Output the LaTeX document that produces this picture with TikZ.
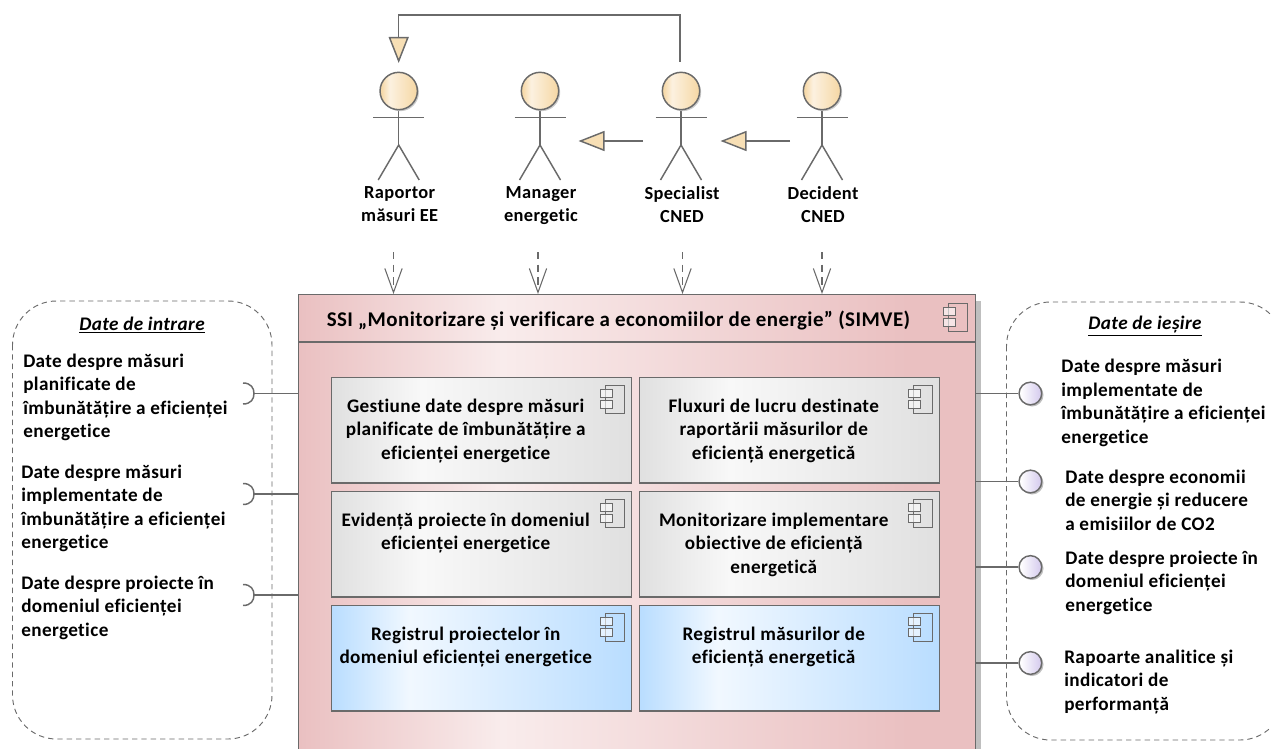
\documentclass[tikz,border=0pt]{standalone}
\usepackage{fontspec}
\setmainfont{Carlito}[LetterSpace=2,Ligatures=NoCommon]
\usetikzlibrary{arrows.meta,positioning}
\definecolor{linegray}{HTML}{6A6A6A}
\definecolor{skin}{HTML}{F6D9A8}
\definecolor{skinlight}{HTML}{FCF1E0}
\definecolor{pinkdark}{HTML}{EAC0C1}
\definecolor{pinklight}{HTML}{F9ECEC}
\definecolor{graydark}{HTML}{E0E0E0}
\definecolor{graylight}{HTML}{F8F8F8}
\definecolor{bluedark}{HTML}{B9DDFF}
\definecolor{bluelight}{HTML}{F1F8FF}
\definecolor{lavender}{HTML}{D6CCEE}
\pgfdeclarehorizontalshading{simveshade}{100bp}{color(0bp)=(pinkdark); color(25bp)=(pinkdark); color(40bp)=(pinklight); color(70bp)=(pinkdark); color(100bp)=(pinkdark)}
\pgfdeclarehorizontalshading{grayshade}{100bp}{color(0bp)=(graydark); color(25bp)=(graydark); color(40bp)=(graylight); color(75bp)=(graydark); color(100bp)=(graydark)}
\pgfdeclarehorizontalshading{blueshade}{100bp}{color(0bp)=(bluedark); color(25bp)=(bluedark); color(38bp)=(bluelight); color(75bp)=(bluedark); color(100bp)=(bluedark)}
\pgfdeclarehorizontalshading{skinshade}{100bp}{color(0bp)=(skin); color(27bp)=(skin); color(38bp)=(skinlight); color(72bp)=(skin); color(100bp)=(skin)}
\pgfdeclarehorizontalshading{ifaceshade}{100bp}{color(0bp)=(white); color(28bp)=(white); color(72bp)=(lavender); color(100bp)=(lavender)}
\tikzset{
  pxline/.style={draw=linegray,line width=1.1pt},
  textfont/.style={font=\fontsize{14.4}{17.6}\selectfont\bfseries,execute at begin node=\strut},
  datatext/.style={textfont,align=left,anchor=north west,inner sep=0pt},
  boxtext/.style={textfont,align=center,anchor=north,inner sep=0pt},
  actorlabel/.style={font=\fontsize{13.8}{17.6}\selectfont\bfseries,execute at begin node=\strut,align=center,anchor=north,inner sep=0pt},
  headtitle/.style={font=\fontsize{14.4}{17.6}\selectfont\bfseries\itshape,inner sep=0pt},
  actorhead/.style={circle,pxline,shading=skinshade,minimum size=28pt,inner sep=0pt},
  simvebox/.style={rectangle,pxline,shading=simveshade,minimum width=507.75pt,minimum height=360pt,inner sep=0pt},
  compgray/.style={rectangle,pxline,shading=grayshade,minimum width=225pt,minimum height=79pt,inner sep=0pt},
  compblue/.style={rectangle,pxline,shading=blueshade,minimum width=225pt,minimum height=79pt,inner sep=0pt},
  databox/.style={draw=linegray,line width=0.7pt,dash pattern=on 4pt off 3pt,rounded corners=33pt},
  genline/.style={pxline,-{Triangle[length=19.5pt,width=15pt,fill=skin!85!white]}},
  useline/.style={draw=linegray,line width=0.8pt,dash pattern=on 5.5pt off 4pt,-{Straight Barb[length=18pt,width=13pt,line width=0.8pt]}},
  ifacecircle/.style={circle,pxline,shading=ifaceshade,minimum size=17pt,inner sep=0pt},
  compicon/.pic={
    \draw[pxline,line width=0.7pt] (5,0) rectangle (23.5,28);
    \draw[pxline,line width=0.7pt,fill=white,fill opacity=0.6] (0,4) rectangle (12,12.5);
    \draw[pxline,line width=0.7pt,fill=white,fill opacity=0.6] (0,15) rectangle (12,23);
  }
}
\begin{document}
\begin{tikzpicture}[x=0.75pt,y=-0.75pt]
  \useasboundingbox (0,0) rectangle (1271,749);

  % actors
  \foreach \nm/\xx/\txt in {raportor/398.7/{Raportor\\măsuri EE},
      manager/540/{Manager\\energetic},
      specialist/681/{Specialist\\CNED},
      decident/822/{Decident\\CNED}} {
    \draw[pxline] (\xx,109.7) -- (\xx,145) (\xx-25.5,117.7) -- (\xx+25.5,117.7);
    \draw[pxline] (\xx-20.5,180) -- (\xx,145) -- (\xx+20.5,180);
    \fill[black!20] (\xx+1.5,92.5) circle (18.7);
    \node[actorhead] (\nm) at (\xx,91) {};
    \node[actorlabel] (\nm Label) at (\xx+1,186) {\txt};
  }

  % links between the actors
  \coordinate (specialistTop) at (680,62);
  \coordinate (raportorTop) at (398.7,63);
  \coordinate (specialistLeft) at (643,141);
  \coordinate (managerRight) at (578.5,141);
  \coordinate (decidentLeft) at (790,141);
  \coordinate (specialistRight) at (720.5,141);
  \draw[genline] (specialistTop) -- (680,15) -| (raportorTop);
  \draw[genline] (specialistLeft) -- (managerRight);
  \draw[genline] (decidentLeft) -- (specialistRight);

  % data frames
  \draw[databox] (12.5,301) rectangle (272,739);
  \draw[databox] (1006.5,302) rectangle (1284,740);
  \node[headtitle] (inTitle) at (142,325) {\underline{Date de intrare}};
  \node[headtitle] (outTitle) at (1145,326) {\underline{Date de ieșire}};

  % main component
  \fill[black!25] (975,301) rectangle (981,749);
  \node[simvebox,anchor=north west] (simve) at (298,294) {};
  \draw[pxline] (298,342) -- (975,342);
  \node[font=\fontsize{15.7}{18}\selectfont\bfseries,inner sep=0pt] (simveTitle) at (618.5,321)
    {SSI „Monitorizare și verificare a economiilor de energie” (SIMVE)};
  \pic at (943.5,303) {compicon};

  \foreach \nm/\sty/\pos/\txt in {
      gestiune/compgray/{331,377}/{Gestiune date despre măsuri\\planificate de îmbunătățire a\\eficienței energetice},
      fluxuri/compgray/{639,377}/{Fluxuri de lucru destinate\\raportării măsurilor de\\eficiență energetică},
      evidenta/compgray/{331,491}/{Evidență proiecte în domeniul\\eficienței energetice},
      monitorizare/compgray/{639,491}/{Monitorizare implementare\\obiective de eficiență\\energetică},
      regproiecte/compblue/{331,605}/{Registrul proiectelor în\\domeniul eficienței energetice},
      regmasuri/compblue/{639,605}/{Registrul măsurilor de\\eficiență energetică}} {
    \node[\sty,anchor=north west] (\nm) at (\pos) {};
    \node[boxtext] (\nm Text) at ([xshift=-12pt,yshift=-16pt]\nm.north) {\txt};
    \pic at ([xshift=-24pt,yshift=-6pt]\nm.north east) {compicon};
  }

  % usage arrows
  \foreach \nm/\xx in {useA/393.5,useB/538,useC/682.5,useD/822} {
    \coordinate (\nm) at (\xx,252);
    \draw[useline] (\nm) -- (\nm |- simve.north);
  }

  % required interfaces
  \foreach \nm/\yy in {inA/393.5,inB/494,inC/595} {
    \coordinate (\nm) at (254,\yy);
    \draw[pxline] (\nm) -- (\nm -| simve.west);
    \draw[pxline] (243,\yy-10.5) .. controls (251,\yy-10.5) and (254,\yy-5.5) .. (\nm)
      .. controls (254,\yy+5.5) and (251,\yy+10.5) .. (243,\yy+10.5);
  }

  % provided interfaces
  \foreach \nm/\yy in {outA/393.5,outB/481.5,outC/567,outD/663} {
    \fill[black!25] (1032,\yy+1.5) circle (11.5);
    \node[ifacecircle] (\nm) at (1030.4,\yy) {};
    \draw[pxline] (simve.east |- \nm) -- (\nm);
  }

  % data labels
  \node[datatext] (inTextA) at (23,353.5) {Date despre măsuri\\planificate de\\îmbunătățire a eficienței\\energetice};
  \node[datatext] (inTextB) at (21,464.5) {Date despre măsuri\\implementate de\\îmbunătățire a eficienței\\energetice};
  \node[datatext] (inTextC) at (21,575.5) {Date despre proiecte în\\domeniul eficienței\\energetice};
  \node[datatext] (outTextA) at (1061,359) {Date despre măsuri\\implementate de\\îmbunătățire a eficienței\\energetice};
  \node[datatext] (outTextB) at (1065,469.5) {Date despre economii\\de energie și reducere\\a emisiilor de CO2};
  \node[datatext] (outTextC) at (1065,550.5) {Date despre proiecte în\\domeniul eficienței\\energetice};
  \node[datatext] (outTextD) at (1064,649.5) {Rapoarte analitice și\\indicatori de\\performanță};
\end{tikzpicture}
\end{document}
